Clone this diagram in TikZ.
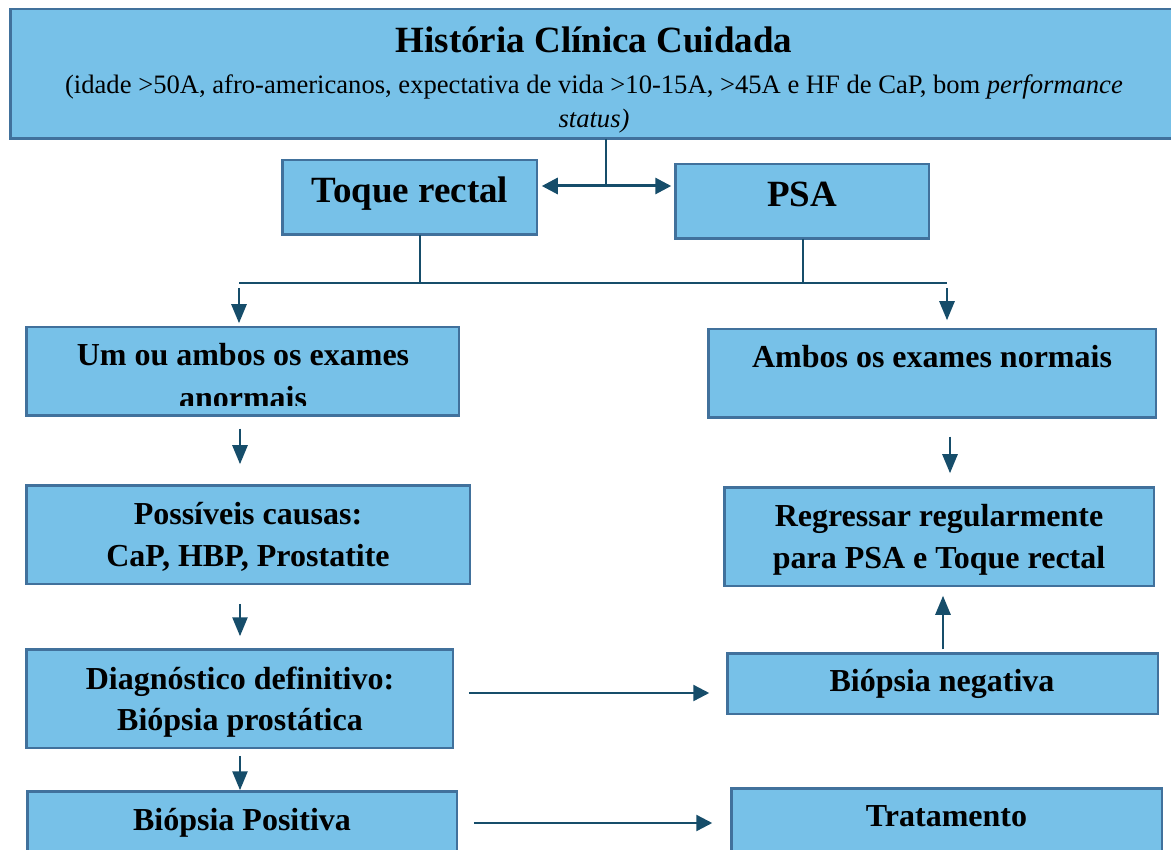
\documentclass[tikz,border=0pt]{standalone}
\usepackage{fontspec}
\setmainfont{Liberation Serif}
\usetikzlibrary{arrows.meta,calc}
\definecolor{boxfill}{RGB}{119,193,232}
\definecolor{boxline}{RGB}{65,113,156}
\definecolor{arrcol}{RGB}{22,77,106}
\tikzset{
  box/.style={draw=boxline, fill=boxfill, line width=2.5pt, inner sep=0pt, outer sep=0pt},
  txt/.style={anchor=base, inner sep=0pt, font=\fontsize{32}{38}\selectfont\bfseries},
  bigtxt/.style={anchor=base, inner sep=0pt, font=\fontsize{37}{44}\selectfont\bfseries},
  subtxt/.style={anchor=base, inner sep=0pt, font=\fontsize{26.6}{32}\selectfont},
  conn/.style={draw=arrcol, line width=1.4pt},
  varr/.style={draw=arrcol, line width=2.6pt, -{Triangle[length=19pt 0 0,width=15pt 0 0]}},
  harr/.style={draw=arrcol, line width=2.4pt, -{Triangle[length=16pt 0 0,width=16pt 0 0]}},
  dblarr/.style={draw=arrcol, line width=3pt, {Triangle[length=16pt 0 0,width=16pt 0 0]}-{Triangle[length=16pt 0 0,width=16pt 0 0]}}
}
\begin{document}
\begin{tikzpicture}[x=1pt,y=-1pt]
\useasboundingbox (0,0) rectangle (1171,850);
% boxes
\node[box, minimum width=1168.5pt, minimum height=129.5pt] (top) at (594.5,74) {};
\node[box, minimum width=254.5pt, minimum height=74.5pt] (toque) at (409.5,197.5) {};
\node[box, minimum width=253.5pt, minimum height=74.5pt] (psa) at (802,201.5) {};
\node[box, minimum width=432.5pt, minimum height=88.5pt] (um) at (242.5,371.5) {};
\node[box, minimum width=447.5pt, minimum height=88.5pt] (ambos) at (932,373.5) {};
\node[box, minimum width=443.5pt, minimum height=98.5pt] (poss) at (248,534.5) {};
\node[box, minimum width=429.5pt, minimum height=98.5pt] (regr) at (939,536.5) {};
\node[box, minimum width=426.5pt, minimum height=98.5pt] (diag) at (239.5,698.5) {};
\node[box, minimum width=430.5pt, minimum height=60.5pt] (neg) at (942.5,683.5) {};
\node[box, minimum width=429.5pt, minimum height=97.5pt] (pos) at (242,840) {};
\node[box, minimum width=430.5pt, minimum height=100.5pt] (trat) at (946.5,838.5) {};
% texts
\node[bigtxt] (t1) at (594,53) {História Clínica Cuidada};
\node[subtxt] (t2) at (594,94) {(idade >50A, afro-americanos, expectativa de vida >10-15A, >45A e HF de CaP, bom \textit{performance}};
\node[subtxt] (t3) at (594,128) {\textit{status)}};
\node[bigtxt] (t4) at (410,203) {Toque rectal};
\node[bigtxt] (t5) at (802,207) {PSA};
\node[txt] (t6) at (243,366) {Um ou ambos os exames};
\begin{scope}
\clip (25,326) rectangle (460,405.5);
\node[txt] (t7) at (243,409) {anormais};
\end{scope}
\node[txt] (t8) at (932,368) {Ambos os exames normais};
\node[txt] (t9) at (248,524) {Possíveis causas:};
\node[txt] (t10) at (248,566) {CaP, HBP, Prostatite};
\node[txt] (t11) at (939,526) {Regressar regularmente};
\node[txt] (t12) at (939,568) {para PSA e Toque rectal};
\node[txt] (t13) at (240,689) {Diagnóstico definitivo:};
\node[txt] (t14) at (240,730) {Biópsia prostática};
\node[txt] (t15) at (942,691) {Biópsia negativa};
\node[txt] (t16) at (242,830) {Biópsia Positiva};
\node[txt] (t17) at (946.5,826) {Tratamento};
% helper coordinates
\coordinate (jn) at (606,186);
\coordinate (tl) at (420,283);
\coordinate (pl) at (803,283);
\coordinate (hl) at (239,283);
\coordinate (hr) at (947,283);
\coordinate (lx) at (240,0);
\coordinate (rx1) at (950,0);
\coordinate (rx2) at (943,0);
\coordinate (ry1) at (0,693);
\coordinate (ry2) at (0,823);
% connectors
\draw[conn] (top.south -| jn) -- (jn);
\draw[dblarr, shorten <=5pt, shorten >=4pt] (toque.east |- jn) -- (psa.west |- jn);
\draw[conn] (toque.south -| tl) -- (tl);
\draw[conn] (psa.south -| pl) -- (pl);
\draw[conn] (hl) -- (hr);
\draw[varr, shorten <=5pt, shorten >=4pt] (hl) -- (um.north -| hl);
\draw[varr, shorten <=5pt, shorten >=9pt] (hr) -- (ambos.north -| hr);
\draw[varr, shorten <=13pt, shorten >=21pt] (um.south -| lx) -- (poss.north -| lx);
\draw[varr, shorten <=20pt, shorten >=13pt] (poss.south -| lx) -- (diag.north -| lx);
\draw[varr, shorten <=8pt, shorten >=1pt] (diag.south -| lx) -- (pos.north -| lx);
\draw[varr, shorten <=19pt, shorten >=14pt] (ambos.south -| rx1) -- (regr.north -| rx1);
\draw[varr, shorten <=4pt, shorten >=10pt] (neg.north -| rx2) -- (regr.south -| rx2);
\draw[harr, shorten <=16pt, shorten >=18pt] (diag.east |- ry1) -- (neg.west |- ry1);
\draw[harr, shorten <=17pt, shorten >=19pt] (pos.east |- ry2) -- (trat.west |- ry2);
\end{tikzpicture}
\end{document}
